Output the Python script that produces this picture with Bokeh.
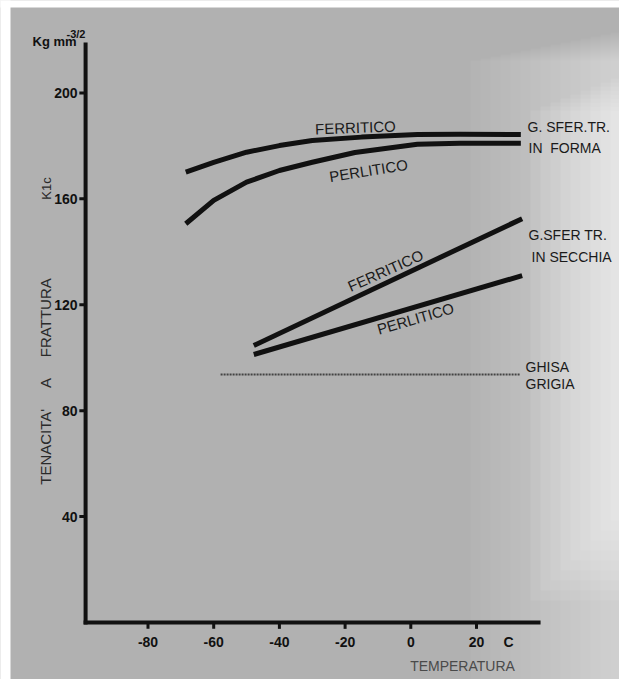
import math
from bokeh.plotting import figure
from bokeh.models import Range1d, Label
from bokeh.core.properties import value
from bokeh.embed import file_html
from bokeh.resources import INLINE

# ---- data ----
t_forma_ferr = [-68.5, -60, -50, -40, -30, -15, 2, 15, 33.5]
k_forma_ferr = [170.1, 173.8, 177.6, 180.1, 182.0, 183.3, 184.3, 184.4, 184.3]

t_forma_perl = [-68.5, -60, -50, -40, -30, -17, 2, 15, 33.5]
k_forma_perl = [150.6, 159.4, 166.3, 170.7, 173.8, 177.5, 180.6, 181.0, 181.0]

t_secc_ferr = [-47.8, 33.9]
k_secc_ferr = [104.6, 152.5]

t_secc_perl = [-47.8, 33.9]
k_secc_perl = [101.2, 131.0]

t_ghisa = [-57.9, 33.4]
k_ghisa = [93.7, 93.7]

x_ticks = [-80, -60, -40, -20, 0, 20]
x_tick_labels = ["-80", "-60", "-40", "-20", "0", "20"]
y_ticks = [40, 80, 120, 160, 200]
y_tick_labels = ["40", "80", "120", "160", "200"]

# axis extent (data units)
X_MIN, X_MAX = -99.0, 39.5
Y_MIN, Y_MAX = 0.0, 219.0

BG = "#b1b1b1"
INK = "#111111"
FONT = "Liberation Sans"
NB = "\u00a0"

# picture-pixel -> data helpers (for placing decorations / annotations)
SX, X0PIX = 3.285, 410.3
SY, Y0PIX = 2.648, 622.0
def tx(px):
    return (px - X0PIX) / SX
def ky(py):
    return (Y0PIX - py) / SY

W, H = 619, 679
p = figure(width=W, height=H, output_backend="svg", toolbar_location=None,
           x_range=Range1d(tx(0), tx(W)), y_range=Range1d(ky(H), ky(0)),
           min_border=0, background_fill_color=BG, border_fill_color=BG,
           outline_line_color=None)
p.grid.visible = False
p.axis.visible = False

# glare on the right side of the photographed page
for i in range(15):
    l = tx(470 + 10 * i)
    p.quad(left=[l], right=[tx(625)], bottom=[ky(685)], top=[ky(60 - 2 * i)],
           fill_color="white", fill_alpha=0.04, line_color=None)
for i in range(9):
    l = tx(530 + 10 * i)
    p.quad(left=[l], right=[tx(625)], bottom=[ky(600 - 10 * i)], top=[ky(110 - 4 * i)],
           fill_color="white", fill_alpha=0.07, line_color=None)

# white page borders of the photograph (left and top)
p.quad(left=[tx(-5)], right=[tx(10)], bottom=[ky(685)], top=[ky(-5)],
       fill_color="white", line_color=None)
p.quad(left=[tx(-5)], right=[tx(625)], bottom=[ky(7)], top=[ky(-5)],
       fill_color="white", line_color=None)

# axes
p.segment(x0=[X_MIN], y0=[Y_MIN - 0.75], x1=[X_MIN], y1=[Y_MAX], line_width=4, line_color=INK)
p.segment(x0=[X_MIN - 0.6], y0=[Y_MIN], x1=[X_MAX], y1=[Y_MIN], line_width=4, line_color=INK)
p.segment(x0=x_ticks, y0=[Y_MIN] * len(x_ticks), x1=x_ticks, y1=[Y_MIN - 2.4] * len(x_ticks),
          line_width=3, line_color=INK)
p.segment(x0=[X_MIN] * len(y_ticks), y0=y_ticks, x1=[X_MIN - 1.9] * len(y_ticks), y1=y_ticks,
          line_width=3, line_color=INK)
p.text(x=x_ticks, y=[ky(641)] * len(x_ticks), text=x_tick_labels, text_font=value(FONT),
       text_font_size=value("14px"), text_font_style="bold", text_align="center",
       text_baseline="middle", text_color=INK)
p.text(x=[tx(77)] * len(y_ticks), y=y_ticks, text=y_tick_labels, text_font=value(FONT),
       text_font_size=value("14px"), text_font_style="bold", text_align="right",
       text_baseline="middle", text_color=INK)

# curves
p.line(t_forma_ferr, k_forma_ferr, line_width=5, line_color=INK, line_cap="butt", line_join="round")
p.line(t_forma_perl, k_forma_perl, line_width=5, line_color=INK, line_cap="butt", line_join="round")
p.line(t_secc_ferr, k_secc_ferr, line_width=5, line_color=INK, line_cap="butt")
p.line(t_secc_perl, k_secc_perl, line_width=5, line_color=INK, line_cap="butt")
p.line(t_ghisa, k_ghisa, line_width=2, line_color="#444444", line_dash="2 1")

def lab(text, px, py, size="15px", angle=0.0, align="left", baseline="middle",
        style="normal", color="#1a1a1a"):
    p.add_layout(Label(x=tx(px), y=ky(py), text=text, text_font=FONT, text_font_size=size,
                       angle=math.radians(angle), text_align=align, text_baseline=baseline,
                       text_font_style=style, text_color=color))

lab("FERRITICO", 355, 127, angle=2, align="center")
lab("PERLITICO", 368, 170, angle=9, align="center")
lab("FERRITICO", 385, 270, angle=24, align="center")
lab("PERLITICO", 415, 318, angle=16, align="center")

lab("G. SFER.TR.", 527, 126, size="14px")
lab("IN" + NB * 2 + "FORMA", 528, 147, size="14px")
lab("G.SFER TR.", 528, 234, size="14px")
lab("IN SECCHIA", 531, 256, size="14px")
lab("GHISA", 525, 366, size="14px")
lab("GRIGIA", 525, 383, size="14px")

lab("TENACITA'" + NB * 5 + "A" + NB * 5 + "FRATTURA", 45, 381, angle=90, align="center",
    color="#2a2a2a")
lab("K1c", 46, 188, size="13px", angle=90, align="center", color="#2a2a2a")
lab("Kg mm", 32, 41, size="13px", baseline="alphabetic", style="bold", color=INK)
lab("-3/2", 66, 33, size="11px", baseline="alphabetic", style="bold", color=INK)
lab("C", 508, 641, size="14px", align="center", style="bold", color=INK)
lab("TEMPERATURA", 462, 665, size="14px", align="center", color="#4a4a4a")

open("out.html", "w").write(file_html(p, INLINE))
